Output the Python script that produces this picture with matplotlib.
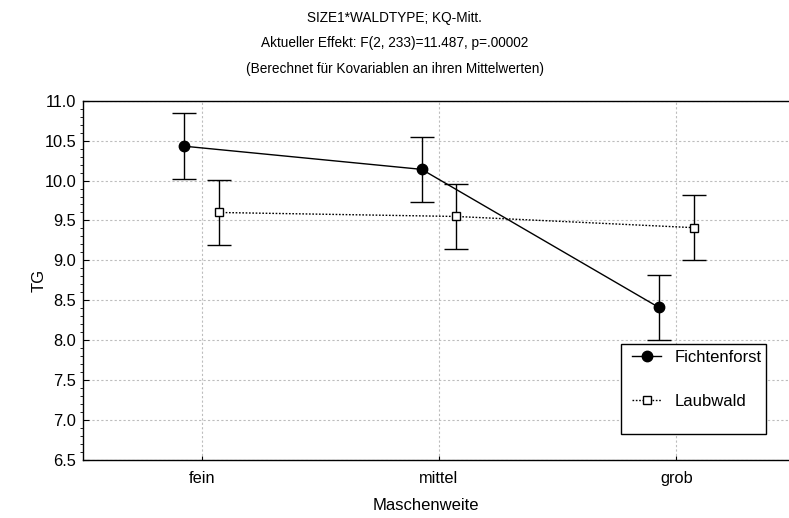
import matplotlib
matplotlib.use("Agg")
import matplotlib.pyplot as plt
from matplotlib.ticker import MultipleLocator, FormatStrFormatter
from matplotlib.lines import Line2D
from matplotlib.patches import Rectangle
import numpy as np

plt.rcParams['font.family'] = ['Liberation Sans', 'DejaVu Sans']

categories = ["fein", "mittel", "grob"]
fichten_mean = [10.43, 10.14, 8.41]
fichten_err = [0.41, 0.41, 0.41]
laub_mean = [9.60, 9.55, 9.41]
laub_err = [0.41, 0.41, 0.41]
series_names = ["Fichtenforst", "Laubwald"]
title_lines = [
    "SIZE1*WALDTYPE; KQ-Mitt.",
    "Aktueller Effekt: F(2, 233)=11.487, p=.00002",
    "(Berechnet für Kovariablen an ihren Mittelwerten)",
]

W, H = 789, 518
fig = plt.figure(figsize=(W / 100, H / 100), dpi=100)
ax = fig.add_axes([83 / W, 1 - 460 / H, 712 / W, 359.3 / H])

x = np.arange(len(categories))
off = 0.073
dotted = (0, (1.2, 1.2))

ax.errorbar(x - off, fichten_mean, yerr=fichten_err, color='black', lw=1.0,
            marker='o', ms=7.5, mfc='black', mec='black', capsize=8.6,
            elinewidth=1.0, capthick=1.0, zorder=3)
ax.errorbar(x + off, laub_mean, yerr=laub_err, color='black', lw=1.0,
            ls=dotted, marker='s', ms=6, mfc='white', mec='black',
            mew=1.0, capsize=8.6, elinewidth=1.0, capthick=1.0, zorder=3)

ax.set_xlim(-0.5, 2.5)
ax.set_ylim(6.5, 11.0)
ax.set_xticks(x)
ax.set_xticklabels(categories)
ax.yaxis.set_major_locator(MultipleLocator(0.5))
ax.yaxis.set_minor_locator(MultipleLocator(0.1))
ax.yaxis.set_major_formatter(FormatStrFormatter('%.1f'))
ax.tick_params(axis='both', direction='in', labelsize=11.8, color='black')
ax.tick_params(axis='y', which='major', length=4, pad=5)
ax.tick_params(axis='y', which='minor', length=2)
ax.tick_params(axis='x', which='major', length=3, pad=8)
ax.grid(True, which='major', color='#bdbdbd', ls=(0, (2, 2)), lw=0.8)
ax.spines['right'].set_visible(False)
for s in ax.spines.values():
    s.set_linewidth(1.0)
    s.set_color('black')

fig.text(426 / W, 1 - 505 / H, "Maschenweite", ha='center', va='center',
         fontsize=12)
fig.text(39 / W, 1 - 280 / H, "TG", ha='center', va='center',
         rotation=90, fontsize=12)

for i, t in enumerate(title_lines):
    fig.text(394.5 / W, 1 - (18 + 25.5 * i) / H, t, ha='center',
             va='center', fontsize=9.8)

# legend frame and entries
fig.add_artist(Rectangle((621 / W, 1 - 434 / H), 145 / W, 90 / H,
                         transform=fig.transFigure, fill=True,
                         facecolor='white', edgecolor='black', lw=1.0,
                         zorder=4))
handles = [
    Line2D([], [], color='black', lw=1.0, marker='o', ms=7.5,
           mfc='black', mec='black'),
    Line2D([], [], color='black', lw=1.0, ls=dotted, marker='s', ms=6,
           mfc='white', mec='black'),
]
leg = fig.legend(handles, series_names, loc='center left',
                 bbox_to_anchor=(632 / W, 1 - 379.5 / H),
                 bbox_transform=fig.transFigure, frameon=False,
                 fontsize=12, labelspacing=1.72, handlelength=1.75,
                 handletextpad=0.78, borderpad=0, borderaxespad=0)
leg.set_zorder(5)

fig.savefig("out.png", dpi=100)
